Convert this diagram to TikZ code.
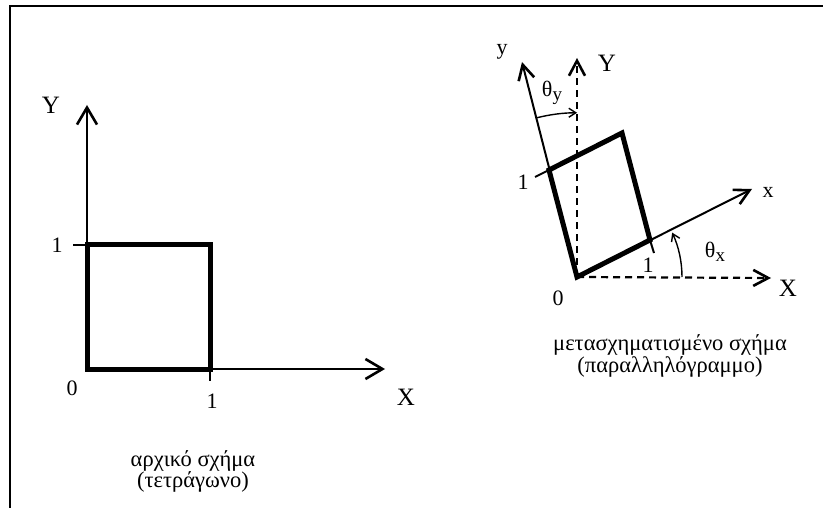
\documentclass[tikz,border=0pt]{standalone}
\usepackage{fontspec}
\setmainfont{Liberation Serif}
\usetikzlibrary{arrows.meta}
\begin{document}
\begin{tikzpicture}[x=1pt,y=-1pt,
  axis/.style={line width=2pt},
  bigtip/.style={-{Straight Barb[length=17pt,width=20pt,line width=2.6pt]}},
  smalltip/.style={-{Straight Barb[length=15pt,width=16pt,line width=2.6pt]}},
  shapeline/.style={line width=5pt,line join=miter},
  dashax/.style={line width=2.2pt,dash pattern=on 7pt off 5pt},
  lbl/.style={font=\fontsize{22}{22}\selectfont,inner sep=0pt},
  biglbl/.style={font=\fontsize{25}{25}\selectfont,inner sep=0pt},
  captext/.style={font=\fontsize{22.5}{21}\selectfont,align=center,inner sep=0pt},
  anglearc/.style={line width=1.4pt,-{Straight Barb[length=7pt,width=9pt]}},
  frameline/.style={line width=2.7pt}
]
\useasboundingbox (0,0) rectangle (823,508);
% frame
\coordinate (F1) at (10,508);
\coordinate (F2) at (10,6);
\coordinate (F3) at (823,6);
\draw[frameline] (F1) -- (F2) -- (F3);

% ---------- left diagram ----------
\coordinate (O1) at (87,369);
\coordinate (YT1) at (87,105);
\coordinate (XT1) at (385,369);
\coordinate (S1) at (210,369);
\coordinate (S2) at (210,245);
\coordinate (S3) at (87,245);
\coordinate (T1) at (73,245);
\coordinate (T2) at (210,381);
\draw[axis,bigtip] (O1) -- (YT1);
\draw[axis,bigtip] (O1) -- (XT1);
\draw[shapeline] (O1) -- (S1) -- (S2) -- (S3) -- cycle;
\draw[axis] (T1) -- (S3);
\draw[axis] (S1) -- (T2);
\node[biglbl] (LY) at (51,105) {Y};
\node[lbl] (L1y) at (57,245) {1};
\node[lbl] (L0) at (72,388) {0};
\node[lbl] (L1x) at (212,401) {1};
\node[biglbl] (LX) at (406,397) {X};
\node[captext] (LC) at (193,471) {αρχικό σχήμα\\(τετράγωνο)};

% ---------- right diagram ----------
\coordinate (O2) at (577,277);
\coordinate (P1) at (650,240);
\coordinate (P2) at (622,133);
\coordinate (P3) at (549,170);
\coordinate (YT2) at (522,62);
\coordinate (XT2) at (752,189);
\coordinate (DYT) at (577,58);
\coordinate (DXT) at (771,278);
\coordinate (T3) at (535,177);
\coordinate (T4) at (654,253);
\coordinate (AX) at (682,277);
\coordinate (AY) at (536,118);
\draw[dashax,smalltip] (O2) -- (DYT);
\draw[dashax,smalltip] (O2) -- (DXT);
\draw[axis,smalltip] (O2) -- (YT2);
\draw[axis,smalltip] (O2) -- (XT2);
\draw[shapeline] (O2) -- (P1) -- (P2) -- (P3) -- cycle;
\draw[axis] (T3) -- (P3);
\draw[axis] (P1) -- (T4);
\draw[anglearc] (AX) arc[start angle=0,end angle=25,radius=105pt];
\draw[anglearc] (AY) arc[start angle=104.5,end angle=90,radius=164pt];
\node[lbl] (Ry) at (502,52) {y};
\node[biglbl] (RY) at (607,63) {Y};
\node[lbl] (Rty) at (552,93) {θ\raisebox{-4pt}{\fontsize{19}{19}\selectfont y}};
\node[lbl] (R1y) at (523,182) {1};
\node[lbl] (Rx) at (768,192) {x};
\node[lbl] (Rtx) at (715,252) {θ\raisebox{-4pt}{\fontsize{19}{19}\selectfont x}};
\node[lbl] (R1x) at (648,265) {1};
\node[lbl] (R0) at (558,298) {0};
\node[biglbl] (RX) at (788,288) {X};
\node[captext,font=\fontsize{22.5}{19}\selectfont] (RC) at (670,356) {μετασχηματισμένο σχήμα\\(παραλληλόγραμμο)};
\end{tikzpicture}
\end{document}
